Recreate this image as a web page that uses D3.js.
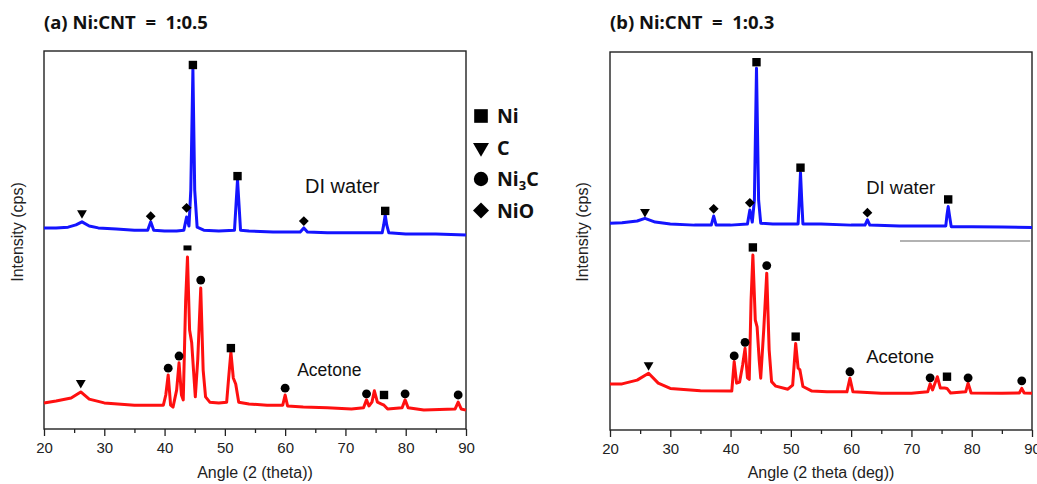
<!DOCTYPE html>
<html lang="en">
<head>
<meta charset="UTF-8">
<title>XRD Ni:CNT</title>
<script src="https://d3js.org/d3.v7.min.js"></script>
<style>
  body { margin: 0; background: #fff; }
  svg { display: block; }
  .tick text { font-family: "Liberation Sans", Arial, sans-serif; font-size: 15px; fill: #222; }
  .title { font-family: "Noto Sans", "Open Sans", sans-serif; font-weight: bold; font-size: 18.5px; fill: #111; white-space: pre; }
  .axis-label { font-family: "Liberation Sans", Arial, sans-serif; font-size: 16px; fill: #222; }
  .series-label { font-family: "Liberation Sans", Arial, sans-serif; fill: #111; }
  .legend text { font-family: "Noto Sans", "Open Sans", sans-serif; font-weight: bold; font-size: 19.5px; fill: #111; }
</style>
</head>
<body>
<div id="chart"></div>
<script>
// XRD patterns, angle (2 theta) vs intensity (arb. units, 0-100 of plot height)
const ticksMajor = [20, 30, 40, 50, 60, 70, 80, 90];
const ticksMinor = [25, 35, 45, 55, 65, 75, 85];

// (a) Ni:CNT = 1:0.5
const waterA = [[20,53.2],[22,53.2],[24,53.4],[25.3,54.0],[26.3,54.8],[27.5,53.7],[29,53.2],[32,52.9],[35,52.6],
  [37.2,52.6],[37.7,54.8],[38.2,52.6],[40,52.4],[42,52.4],[43.2,52.6],[43.65,56.1],[44.05,53.7],[44.35,63.2],
  [44.7,95.2],[45.0,63.2],[45.4,53.4],[46.5,52.6],[49,52.4],[51.6,52.6],[51.85,59.3],[52.1,65.9],[52.35,59.3],
  [52.6,52.6],[54,52.4],[58,52.1],[62.5,52.1],[63.1,53.2],[63.7,52.1],[67,51.9],[72,51.9],[76.1,51.9],
  [76.35,54.0],[76.6,56.6],[76.85,54.0],[77.2,51.9],[80,51.6],[85,51.6],[90,51.3]];
const acetoneA = [[20,6.9],[22,7.4],[24.5,8.2],[26.1,9.8],[27.5,7.9],[30,6.9],[35,6.3],[39.8,6.3],[40.2,9.0],
  [40.6,14.3],[41.0,6.3],[41.4,5.8],[42.0,10.3],[42.4,17.5],[42.8,9.0],[43.1,7.7],[43.5,34.1],[43.8,45.5],
  [44.15,26.2],[44.5,22.8],[44.8,15.6],[45.1,8.5],[45.5,18.3],[46.0,37.3],[46.4,15.6],[46.8,8.5],[47.5,7.1],
  [49,6.9],[50.3,7.1],[50.6,13.0],[51.0,20.4],[51.4,13.5],[51.8,11.9],[52.3,7.1],[54,6.6],[57,6.3],[59.6,6.3],
  [60.0,9.0],[60.4,6.1],[63,5.8],[67,5.6],[71,5.3],[73.0,5.6],[73.5,7.7],[73.9,6.1],[74.4,7.1],[74.8,10.1],
  [75.3,7.1],[76.0,6.6],[76.4,6.3],[77,5.3],[79.4,5.6],[79.9,7.7],[80.4,5.6],[83,5.0],[88.2,5.3],[88.7,7.1],
  [89.2,5.3],[90,5.0]];
const markersWaterA = [["C",26.3,57.1],["NiO",37.7,56.3],["NiO",43.65,58.5],["Ni",44.7,96.3],["Ni",52.1,66.9],
  ["NiO",63.1,55.0],["Ni",76.6,57.7]];
const markersAcetoneA = [["C",26.1,12.2],["Ni3C",40.6,16.1],["Ni3C",42.4,19.3],["dash",43.8,47.9],["Ni3C",46.0,39.4],
  ["Ni",51.0,21.4],["Ni3C",60.0,10.8],["Ni3C",73.5,9.3],["Ni",76.4,9.0],["Ni3C",79.9,9.3],["Ni3C",88.7,9.0]];

// (b) Ni:CNT = 1:0.3
const waterB = [[20,54.7],[22,54.8],[24.5,55.3],[25.8,56.0],[27.5,55.0],[30,54.5],[34,54.2],[36.8,54.2],[37.2,56.6],
  [37.6,54.2],[40,54.2],[42.8,54.5],[43.2,58.2],[43.6,55.0],[43.95,60.8],[44.3,95.7],[44.65,60.8],[45.0,54.7],
  [47,54.5],[51.2,54.5],[51.4,60.8],[51.6,68.1],[51.8,60.8],[52.0,54.5],[55,54.5],[60,54.2],[62.3,54.2],
  [62.7,55.6],[63.1,54.2],[68,54.0],[73,54.0],[75.7,54.0],[75.9,56.9],[76.1,59.1],[76.3,56.9],[76.6,53.8],
  [80,53.8],[85,53.7],[90,53.6]];
const acetoneB = [[20,12.2],[22,12.2],[24.5,13.2],[26.4,15.0],[28,12.4],[30,11.0],[35,10.4],[40.2,10.3],[40.6,18.1],
  [41.0,12.4],[41.5,12.7],[42.0,17.2],[42.4,21.6],[42.8,13.8],[43.1,13.4],[43.4,34.4],[43.7,46.3],[44.1,29.1],
  [44.4,27.3],[44.75,18.5],[45.0,13.7],[45.5,26.5],[46.0,41.5],[46.4,21.2],[46.8,12.8],[47.5,11.6],[49.5,10.8],
  [50.3,11.9],[50.8,22.9],[51.2,16.4],[51.5,15.9],[52.0,11.5],[53.5,10.3],[56,10.1],[59.3,10.1],[59.8,13.7],
  [60.3,10.1],[65,9.7],[70,9.7],[72.7,10.1],[73.1,12.2],[73.5,10.6],[74.3,14.1],[74.8,11.1],[75.5,11.1],
  [75.9,11.0],[76.5,9.8],[79.0,10.1],[79.4,12.4],[79.9,9.8],[85,9.7],[87.9,9.8],[88.3,11.0],[88.7,9.8],[90,9.7]];
const markersWaterB = [["C",25.8,57.7],["NiO",37.2,58.5],["NiO",43.2,60.1],["Ni",44.3,97.3],["Ni",51.6,69.4],
  ["NiO",62.7,57.5],["Ni",76.1,61.0]];
const markersAcetoneB = [["C",26.4,17.2],["Ni3C",40.6,19.6],["Ni3C",42.4,23.2],["Ni",43.7,48.3],["Ni3C",46.0,43.5],
  ["Ni",50.8,24.7],["Ni3C",59.8,15.4],["Ni3C",73.1,13.8],["Ni",75.9,14.1],["Ni3C",79.4,13.8],["Ni3C",88.3,13.0]];
const grayLineB = [[68.1,50],[89.7,50]];

const legendItems = ["Ni", "C", "Ni3C", "NiO"];

const svg = d3.select("#chart").append("svg")
  .attr("width", 1037)
  .attr("height", 484);

function symbolPath(type, big) {
  const k = big ? 2.9 : 1.1;
  if (type === "Ni") return d3.symbol(d3.symbolSquare, 64 * k)();
  if (type === "C") return d3.symbol(d3.symbolTriangle, 38 * k)();
  if (type === "Ni3C") return d3.symbol(d3.symbolCircle, 56 * k)();
  if (type === "NiO") return d3.symbol(d3.symbolSquare, 44 * k)();
  return "M-4,-2.5H4V2.5H-4Z";
}
function symbolRotate(type) {
  if (type === "C") return " rotate(180)";
  if (type === "NiO") return " rotate(45)";
  return "";
}

function drawPanel(p) {
  const x = d3.scaleLinear().domain([20, 90]).range([p.left, p.right]);
  const y = d3.scaleLinear().domain([0, 100]).range([p.bottom, p.top]);
  const g = svg.append("g");

  g.append("text").attr("class", "title")
    .attr("x", p.left).attr("y", 29)
    .text(p.title);

  g.append("rect")
    .attr("x", p.left).attr("y", p.top)
    .attr("width", p.right - p.left).attr("height", p.bottom - p.top)
    .attr("fill", "none").attr("stroke", "#222").attr("stroke-width", 1.4);

  const minor = g.append("g").attr("transform", `translate(0,${p.bottom})`)
    .call(d3.axisBottom(x).tickValues(ticksMinor).tickSize(4).tickFormat(""));
  minor.select(".domain").remove();
  const major = g.append("g").attr("transform", `translate(0,${p.bottom})`)
    .call(d3.axisBottom(x).tickValues(ticksMajor).tickSize(7).tickPadding(6).tickFormat(d3.format("d")));
  major.select(".domain").remove();
  g.selectAll(".tick line").attr("stroke", "#222").attr("stroke-width", 1.3);

  g.append("text").attr("class", "axis-label")
    .attr("text-anchor", "middle")
    .attr("x", (p.left + p.right) / 2).attr("y", 478)
    .text(p.xLabel);

  g.append("text").attr("class", "axis-label")
    .attr("text-anchor", "middle")
    .attr("transform", `translate(${p.yLabelX},232) rotate(-90)`)
    .text("Intensity (cps)");

  const line = d3.line().x(d => x(d[0])).y(d => y(d[1]));

  if (p.extraLine) {
    g.append("path").datum(p.extraLine)
      .attr("fill", "none").attr("stroke", "#999").attr("stroke-width", 1.5)
      .attr("d", line);
  }

  g.append("path").datum(p.water)
    .attr("fill", "none").attr("stroke", "#1414ff").attr("stroke-width", 3)
    .attr("stroke-linejoin", "round")
    .attr("d", line);
  g.append("path").datum(p.acetone)
    .attr("fill", "none").attr("stroke", "#ff1010").attr("stroke-width", 3)
    .attr("stroke-linejoin", "round")
    .attr("d", line);

  g.selectAll(".marker")
    .data(p.markers)
    .enter()
    .append("path")
    .attr("class", "marker")
    .attr("d", d => symbolPath(d[0], false))
    .attr("transform", d => `translate(${x(d[1])},${y(d[2])})` + symbolRotate(d[0]))
    .attr("fill", "#000");

  g.append("text").attr("class", "series-label")
    .attr("x", x(p.waterText[0])).attr("y", y(p.waterText[1]))
    .style("font-size", p.waterText[2] + "px")
    .text("DI water");
  g.append("text").attr("class", "series-label")
    .attr("x", x(p.acetoneText[0])).attr("y", y(p.acetoneText[1]))
    .style("font-size", p.acetoneText[2] + "px")
    .text("Acetone");
}

drawPanel({
  title: "(a) Ni:CNT  =  1:0.5",
  left: 44, right: 466, top: 51, bottom: 429,
  xLabel: "Angle (2 (theta))", yLabelX: 23,
  water: waterA, acetone: acetoneA,
  markers: markersWaterA.concat(markersAcetoneA),
  waterText: [63.3, 62.4, 20], acetoneText: [62.0, 14.0, 17.5]
});

drawPanel({
  title: "(b) Ni:CNT  =  1:0.3",
  left: 610, right: 1032, top: 52, bottom: 430,
  xLabel: "Angle (2 theta (deg))", yLabelX: 588,
  water: waterB, acetone: acetoneB,
  markers: markersWaterB.concat(markersAcetoneB),
  waterText: [62.5, 62.5, 18.5], acetoneText: [62.5, 17.6, 18.5],
  extraLine: grayLineB
});

// legend for both panels, between them
const legend = svg.append("g").attr("class", "legend");
legendItems.forEach((t, i) => {
  const cy = 116 + i * 31.5;
  legend.append("path")
    .attr("d", symbolPath(t, true))
    .attr("transform", `translate(481,${cy})` + symbolRotate(t))
    .attr("fill", "#000");
  const txt = legend.append("text").attr("x", 497).attr("y", cy + 7);
  if (t === "Ni3C") {
    txt.append("tspan").text("Ni");
    txt.append("tspan").attr("dy", 4).style("font-size", "13px").text("3");
    txt.append("tspan").attr("dy", -4).text("C");
  } else {
    txt.text(t);
  }
});
</script>
</body>
</html>
